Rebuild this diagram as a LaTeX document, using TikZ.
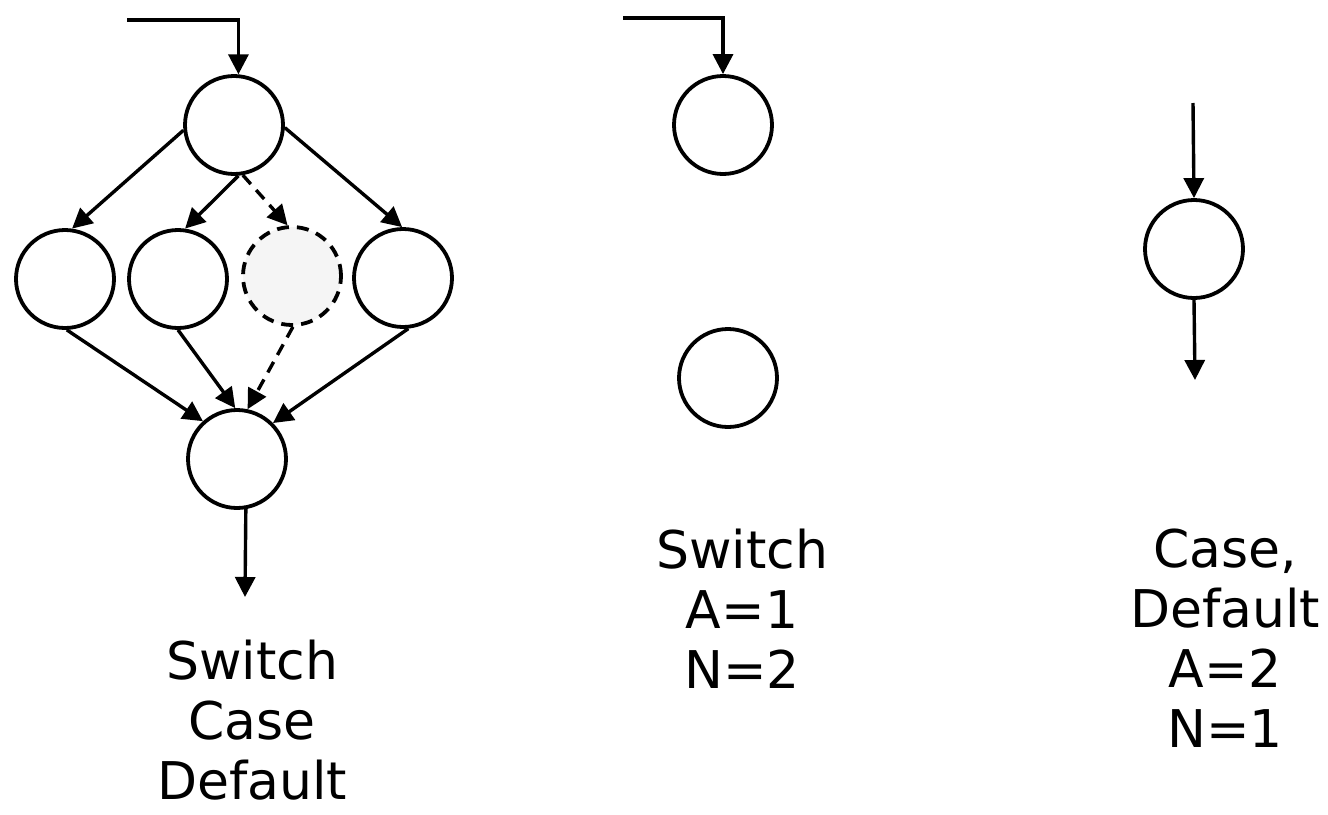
\documentclass[tikz,border=0pt]{standalone}
\usepackage{fontspec}
\setmainfont{DejaVu Sans}
\usetikzlibrary{arrows.meta}
\begin{document}
\begin{tikzpicture}[x=0.5pt,y=-0.5pt,
  state/.style={circle,draw,line width=1.9pt,minimum size=49pt,inner sep=0pt,fill=white},
  ghost/.style={state,dashed,dash pattern=on 6pt off 4pt,fill=gray!8},
  arr/.style={line width=1.7pt,-{Triangle[length=10pt,width=10pt]}},
  darr/.style={arr,dash pattern=on 6pt off 4pt},
  lbl/.style={align=center,font=\fontsize{26}{30}\selectfont,inner sep=0pt}]
\useasboundingbox (0,0) rectangle (1328,814);

% left graph: switch with cases and default
\node[state] (top) at (234,125) {};
\node[state] (c1) at (65,279) {};
\node[state] (c2) at (178,279) {};
\node[ghost] (d) at (292,276) {};
\node[state] (c4) at (403,278) {};
\node[state] (bot) at (237,459) {};
\coordinate (in1) at (127,20);
\coordinate (out1) at (245,597);

\draw[arr] (in1) -| (top.85);
\draw[arr] (top.186) -- (c1.82);
\draw[arr] (top.275) -- (c2.82);
\draw[darr] (top.280) -- (d.95);
\draw[arr] (top.357) -- (c4.91);
\draw[arr] (c1.272) -- (bot.132);
\draw[arr] (c2.270) -- (bot.92);
\draw[darr] (d.271) -- (bot.78);
\draw[arr] (c4.276) -- (bot.45);
\draw[arr] (bot.280) -- (out1);

\node[lbl] (t1) at (252,720) {Switch\\Case\\Default};

% middle graph: switch node and one successor
\node[state] (m1) at (723,125) {};
\node[state] (m2) at (728,378) {};
\coordinate (in2) at (623,18);
\draw[arr] (in2) -| (m1.north);
\node[lbl] (t2) at (742,609) {Switch\\A=1\\N=2};

% right graph: case / default node
\node[state] (r1) at (1194,249) {};
\coordinate (in3) at (1193,103);
\coordinate (out3) at (1195,380);
\draw[arr] (in3) -- (r1.north);
\draw[arr] (r1.south) -- (out3);
\node[lbl] (t3) at (1225,638) {Case,\\Default\\A=2\\N=1};
\end{tikzpicture}
\end{document}
